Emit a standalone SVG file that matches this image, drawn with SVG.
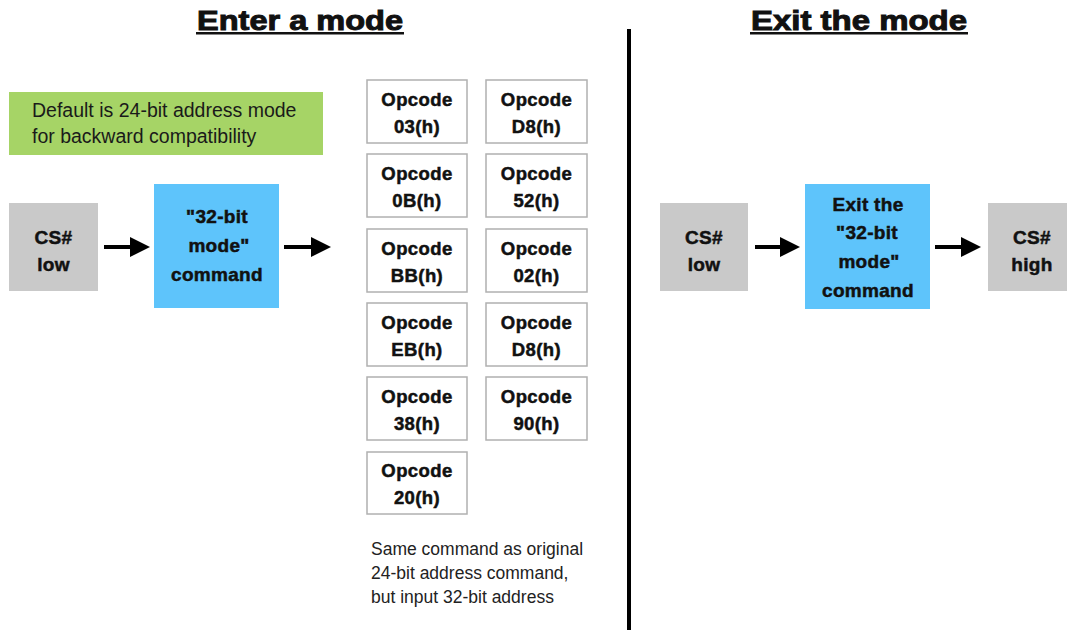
<svg xmlns="http://www.w3.org/2000/svg" width="1067" height="630" viewBox="0 0 1067 630">
<defs>
<style>
.title{font-family:"Liberation Sans",Arial,sans-serif;font-weight:bold;font-size:28px;fill:#111;stroke:#111;stroke-width:1}
.lbl{font-family:"Liberation Sans",Arial,sans-serif;font-weight:bold;font-size:19px;fill:#111;stroke:#111;stroke-width:0.5;text-anchor:middle;letter-spacing:0.3px}
.op{font-family:"Liberation Sans",Arial,sans-serif;font-weight:bold;font-size:18.5px;fill:#111;stroke:#111;stroke-width:0.5;text-anchor:middle;letter-spacing:0.4px}
.note{font-family:"Liberation Sans",Arial,sans-serif;font-size:19.5px;fill:#1a1a1a}
.small{font-family:"Liberation Sans",Arial,sans-serif;font-size:17.5px;fill:#222}
.gray{fill:#c9c9c9}
.blue{fill:#5ec4fb}
.opbox{fill:#fff;stroke:#b0b0b0;stroke-width:1.5}
.arr{stroke:#000;stroke-width:4;fill:none;marker-end:url(#ah)}
</style>
<marker id="ah" markerUnits="userSpaceOnUse" markerWidth="20" markerHeight="20" refX="0" refY="10" orient="auto" viewBox="0 0 20 20">
<path d="M0,0 L20,10 L0,20 z" fill="#000"/>
</marker>
</defs>
<rect width="1067" height="630" fill="#fff"/>

<g id="title-enter">
<text class="title" x="197" y="30" textLength="206" lengthAdjust="spacingAndGlyphs">Enter a mode</text>
<rect x="196" y="32" width="208" height="2.5" fill="#111"/>
</g>
<g id="title-exit">
<text class="title" x="751" y="30" textLength="216" lengthAdjust="spacingAndGlyphs">Exit the mode</text>
<rect x="750" y="32" width="218" height="2.5" fill="#111"/>
</g>

<g id="divider"><rect x="627" y="29" width="4" height="601" fill="#000"/></g>

<g id="note-default">
<rect x="9" y="92" width="314" height="63" fill="#a6d466"/>
<text class="note" x="32" y="117">Default is 24-bit address mode</text>
<text class="note" x="32" y="143">for backward compatibility</text>
</g>

<g id="cs-low-1">
<rect class="gray" x="9" y="203" width="89" height="88"/>
<text class="lbl" x="53.5" y="244">CS#</text>
<text class="lbl" x="53.5" y="271">low</text>
</g>

<g id="cmd-32bit">
<rect class="blue" x="154" y="184" width="125" height="124"/>
<text class="lbl" x="217" y="223">"32-bit</text>
<text class="lbl" x="219" y="252">mode"</text>
<text class="lbl" x="217" y="281">command</text>
</g>

<g id="op-03"><rect class="opbox" x="367" y="80" width="100" height="63"/><text class="op" x="417" y="106">Opcode</text><text class="op" x="417" y="133">03(h)</text></g>
<g id="op-d8a"><rect class="opbox" x="486" y="80" width="101" height="63"/><text class="op" x="536.5" y="106">Opcode</text><text class="op" x="536.5" y="133">D8(h)</text></g>
<g id="op-0b"><rect class="opbox" x="367" y="154" width="100" height="63"/><text class="op" x="417" y="180">Opcode</text><text class="op" x="417" y="207">0B(h)</text></g>
<g id="op-52"><rect class="opbox" x="486" y="154" width="101" height="63"/><text class="op" x="536.5" y="180">Opcode</text><text class="op" x="536.5" y="207">52(h)</text></g>
<g id="op-bb"><rect class="opbox" x="367" y="229" width="100" height="63"/><text class="op" x="417" y="255">Opcode</text><text class="op" x="417" y="282">BB(h)</text></g>
<g id="op-02"><rect class="opbox" x="486" y="229" width="101" height="63"/><text class="op" x="536.5" y="255">Opcode</text><text class="op" x="536.5" y="282">02(h)</text></g>
<g id="op-eb"><rect class="opbox" x="367" y="303" width="100" height="63"/><text class="op" x="417" y="329">Opcode</text><text class="op" x="417" y="356">EB(h)</text></g>
<g id="op-d8b"><rect class="opbox" x="486" y="303" width="101" height="63"/><text class="op" x="536.5" y="329">Opcode</text><text class="op" x="536.5" y="356">D8(h)</text></g>
<g id="op-38"><rect class="opbox" x="367" y="377" width="100" height="63"/><text class="op" x="417" y="403">Opcode</text><text class="op" x="417" y="430">38(h)</text></g>
<g id="op-90"><rect class="opbox" x="486" y="377" width="101" height="63"/><text class="op" x="536.5" y="403">Opcode</text><text class="op" x="536.5" y="430">90(h)</text></g>
<g id="op-20"><rect class="opbox" x="367" y="452" width="100" height="62"/><text class="op" x="417" y="477">Opcode</text><text class="op" x="417" y="504">20(h)</text></g>

<g id="note-same">
<text class="small" x="371" y="555">Same command as original</text>
<text class="small" x="371" y="579">24-bit address command,</text>
<text class="small" x="371" y="603">but input 32-bit address</text>
</g>

<g id="cs-low-2">
<rect class="gray" x="660" y="203" width="88" height="88"/>
<text class="lbl" x="704" y="244">CS#</text>
<text class="lbl" x="704" y="271">low</text>
</g>

<g id="cmd-exit">
<rect class="blue" x="805" y="184" width="125" height="125"/>
<text class="lbl" x="868" y="211">Exit the</text>
<text class="lbl" x="867" y="239">"32-bit</text>
<text class="lbl" x="869" y="268">mode"</text>
<text class="lbl" x="868" y="297">command</text>
</g>

<g id="cs-high">
<rect class="gray" x="988" y="203" width="79" height="88"/>
<text class="lbl" x="1032" y="244">CS#</text>
<text class="lbl" x="1032" y="271">high</text>
</g>

<g id="connectors">
<line class="arr" x1="104" y1="247" x2="130" y2="247"/>
<line class="arr" x1="284" y1="247" x2="311" y2="247"/>
<line class="arr" x1="755" y1="247" x2="780" y2="247"/>
<line class="arr" x1="935" y1="247" x2="961" y2="247"/>
</g>
</svg>
